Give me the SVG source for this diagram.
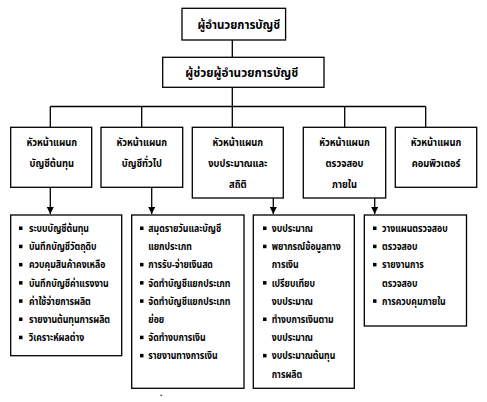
<svg xmlns="http://www.w3.org/2000/svg" width="487" height="402" viewBox="0 0 487 402">
<style>
.box{fill:#fff;stroke:#000;stroke-width:1.3}
.ln{fill:none;stroke:#000;stroke-width:1.3}
text{font-family:Tahoma,"Noto Sans Thai","Noto Sans","DejaVu Sans",sans-serif;font-weight:bold;fill:#000;transform-box:fill-box}
.t1{font-size:13px;text-anchor:middle;transform-origin:50% 50%;transform:scaleX(0.88)}
.t2{font-size:13px;text-anchor:middle;transform-origin:50% 50%;transform:scaleX(0.9)}
.h{font-size:11px;text-anchor:middle;transform-origin:50% 50%;transform:scaleX(0.85)}
.li{font-size:10px;transform-origin:0 50%;transform:scaleX(0.87)}
.b{fill:#000}
</style>
<defs>
<marker id="ar" markerWidth="8" markerHeight="7" refX="7" refY="3.5" orient="auto" markerUnits="userSpaceOnUse">
<path d="M0,0 L7,3.5 L0,7 Z" fill="#000"/>
</marker>
</defs>
<g id="connectors">
<path class="ln" d="M232.3,40 V57.3"/>
<path class="ln" d="M232.3,87.3 V127.3"/>
<path class="ln" d="M50.3,106.5 H425.7"/>
<path class="ln" d="M50.3,106.5 V127.3"/>
<path class="ln" d="M141.7,106.5 V127.3"/>
<path class="ln" d="M344.7,106.5 V127.3"/>
<path class="ln" d="M425.7,106.5 V127.3"/>
<path class="ln" d="M50.3,187.3 V214" marker-end="url(#ar)"/>
<path class="ln" d="M151.7,187.3 V214" marker-end="url(#ar)"/>
<path class="ln" d="M273.3,198 V214" marker-end="url(#ar)"/>
<path class="ln" d="M374.7,198 V214" marker-end="url(#ar)"/>
</g>
<g id="director">
<rect class="box" x="182" y="8.3" width="103.6" height="31.7"/>
<text class="t1" x="238.8" y="29">ผู้อำนวยการบัญชี</text>
</g>
<g id="assistant">
<rect class="box" x="162.7" y="57.3" width="161.3" height="30"/>
<text class="t2" x="241.8" y="77">ผู้ช่วยผู้อำนวยการบัญชี</text>
</g>
<g id="cost">
<rect class="box" x="10.7" y="127.3" width="81" height="60"/>
<text class="h" x="51.8" y="146">หัวหน้าแผนก</text>
<text class="h" x="51.8" y="167">บัญชีต้นทุน</text>
</g>
<g id="general">
<rect class="box" x="101" y="127.3" width="81.7" height="60"/>
<text class="h" x="141.8" y="146">หัวหน้าแผนก</text>
<text class="h" x="141.8" y="167">บัญชีทั่วไป</text>
</g>
<g id="budget">
<rect class="box" x="192.3" y="127.3" width="91" height="70.7"/>
<text class="h" x="237.8" y="146">หัวหน้าแผนก</text>
<text class="h" x="237.8" y="167">งบประมาณและ</text>
<text class="h" x="237.8" y="188">สถิติ</text>
</g>
<g id="audit">
<rect class="box" x="303.3" y="127.3" width="82.4" height="70.7"/>
<text class="h" x="344.5" y="146">หัวหน้าแผนก</text>
<text class="h" x="344.5" y="167">ตรวจสอบ</text>
<text class="h" x="344.5" y="188">ภายใน</text>
</g>
<g id="computer">
<rect class="box" x="395.3" y="127.3" width="81.4" height="60"/>
<text class="h" x="436" y="146">หัวหน้าแผนก</text>
<text class="h" x="436" y="167">คอมพิวเตอร์</text>
</g>
<g id="cost-tasks">
<rect class="box" x="10.7" y="215" width="111" height="140.7"/>
<rect class="b" x="19" y="226.5" width="3.5" height="3.5"/><text class="li" x="29" y="232">ระบบบัญชีต้นทุน</text>
<rect class="b" x="19" y="244.7" width="3.5" height="3.5"/><text class="li" x="29" y="250.2">บันทึกบัญชีวัตถุดิบ</text>
<rect class="b" x="19" y="262.9" width="3.5" height="3.5"/><text class="li" x="29" y="268.4">ควบคุมสินค้าคงเหลือ</text>
<rect class="b" x="19" y="281.1" width="3.5" height="3.5"/><text class="li" x="29" y="286.6">บันทึกบัญชีค่าแรงงาน</text>
<rect class="b" x="19" y="299.3" width="3.5" height="3.5"/><text class="li" x="29" y="304.8">ค่าใช้จ่ายการผลิต</text>
<rect class="b" x="19" y="317.5" width="3.5" height="3.5"/><text class="li" x="29" y="323">รายงานต้นทุนการผลิต</text>
<rect class="b" x="19" y="335.7" width="3.5" height="3.5"/><text class="li" x="29" y="341.2">วิเคราะห์ผลต่าง</text>
</g>
<g id="general-tasks">
<rect class="box" x="131.7" y="215" width="112.3" height="173.3"/>
<rect class="b" x="140" y="226.5" width="3.5" height="3.5"/><text class="li" x="148.3" y="232">สมุดรายวันและบัญชี</text>
<text class="li" x="148.3" y="250.2">แยกประเภท</text>
<rect class="b" x="140" y="262.9" width="3.5" height="3.5"/><text class="li" x="148.3" y="268.4">การรับ-จ่ายเงินสด</text>
<rect class="b" x="140" y="281.1" width="3.5" height="3.5"/><text class="li" x="148.3" y="286.6">จัดทำบัญชีแยกประเภท</text>
<rect class="b" x="140" y="299.3" width="3.5" height="3.5"/><text class="li" x="148.3" y="304.8">จัดทำบัญชีแยกประเภท</text>
<text class="li" x="148.3" y="323">ย่อย</text>
<rect class="b" x="140" y="335.7" width="3.5" height="3.5"/><text class="li" x="148.3" y="341.2">จัดทำงบการเงิน</text>
<rect class="b" x="140" y="353.9" width="3.5" height="3.5"/><text class="li" x="148.3" y="359.4">รายงานทางการเงิน</text>
</g>
<g id="budget-tasks">
<rect class="box" x="253.3" y="215" width="101" height="173.3"/>
<rect class="b" x="263" y="226.5" width="3.5" height="3.5"/><text class="li" x="271.7" y="232">งบประมาณ</text>
<rect class="b" x="263" y="244.7" width="3.5" height="3.5"/><text class="li" x="271.7" y="250.2">พยากรณ์ข้อมูลทาง</text>
<text class="li" x="271.7" y="268.4">การเงิน</text>
<rect class="b" x="263" y="281.1" width="3.5" height="3.5"/><text class="li" x="271.7" y="286.6">เปรียบเทียบ</text>
<text class="li" x="271.7" y="304.8">งบประมาณ</text>
<rect class="b" x="263" y="317.5" width="3.5" height="3.5"/><text class="li" x="271.7" y="323">ทำงบการเงินตาม</text>
<text class="li" x="271.7" y="341.2">งบประมาณ</text>
<rect class="b" x="263" y="353.9" width="3.5" height="3.5"/><text class="li" x="271.7" y="359.4">งบประมาณต้นทุน</text>
<text class="li" x="271.7" y="377.6">การผลิต</text>
</g>
<g id="audit-tasks">
<rect class="box" x="364.3" y="215" width="102.2" height="111"/>
<rect class="b" x="373" y="226.5" width="3.5" height="3.5"/><text class="li" x="382" y="232">วางแผนตรวจสอบ</text>
<rect class="b" x="373" y="244.7" width="3.5" height="3.5"/><text class="li" x="382" y="250.2">ตรวจสอบ</text>
<rect class="b" x="373" y="262.9" width="3.5" height="3.5"/><text class="li" x="382" y="268.4">รายงานการ</text>
<text class="li" x="382" y="286.6">ตรวจสอบ</text>
<rect class="b" x="373" y="299.3" width="3.5" height="3.5"/><text class="li" x="382" y="304.8">การควบคุมภายใน</text>
</g>
<text x="160" y="396" style="font-size:8px">.</text>
</svg>
